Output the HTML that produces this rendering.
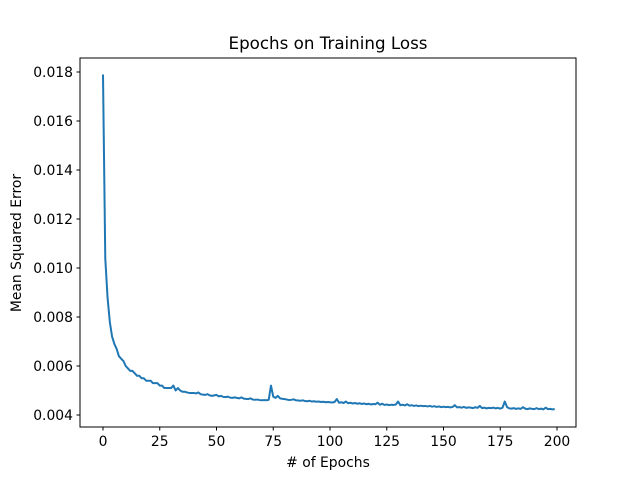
<!DOCTYPE html>
<html><head><meta charset="utf-8"><style>
body{margin:0;background:#fff}
svg text{font-family:"DejaVu Sans","Liberation Sans",sans-serif;fill:#000}
</style></head><body>
<svg id="chart" width="640" height="480" xmlns="http://www.w3.org/2000/svg">
<rect width="640" height="480" fill="#fff"/>
<text x="328" y="49" font-size="16.7" text-anchor="middle">Epochs on Training Loss</text>
<text x="328" y="467" font-size="13.9" text-anchor="middle"># of Epochs</text>
<text transform="translate(21,243) rotate(-90)" font-size="13.9" text-anchor="middle">Mean Squared Error</text>
<g id="ticks"></g>
<path id="line" fill="none" stroke="#1f77b4" stroke-width="2" stroke-linejoin="round"/>
<rect x="80" y="58" width="496" height="369" fill="none" stroke="#000" stroke-width="1"/>
</svg>
<script>
const losses=[
.0179,.0104,.0088,.0078,.0072,.0069,.0067,.0064,.0063,.0062,
.0060,.0059,.0058,.0058,.0057,.0056,.0056,.0055,.0055,.0054,
.0054,.0054,.0053,.0053,.0053,.0052,.0052,.0051,.0051,.0051,
.0051,.0052,.0050,.0051,.0050,.00495,.00495,.00492,.00490,.00490,
.00490,.00488,.00492,.00485,.00483,.00482,.00485,.00480,.00478,.00480,
.00482,.00476,.00478,.00474,.00473,.00475,.00471,.00470,.00472,.00470,
.00468,.00472,.00467,.00466,.00465,.00468,.00463,.00462,.00463,.00461,
.00460,.00461,.00460,.00462,.00520,.00475,.00470,.00478,.00468,.00466,
.00465,.00463,.00461,.00462,.00464,.00460,.00459,.00458,.00460,.00457,
.00456,.00458,.00455,.00456,.00454,.00455,.00453,.00454,.00452,.00453,
.00452,.00451,.00453,.00465,.00450,.00452,.00449,.00455,.00448,.00450,
.00447,.00449,.00446,.00448,.00445,.00447,.00444,.00446,.00443,.00445,
.00444,.00450,.00442,.00446,.00441,.00443,.00440,.00442,.00441,.00443,
.00455,.00440,.00442,.00439,.00444,.00438,.00440,.00437,.00439,.00436,
.00438,.00436,.00437,.00435,.00437,.00434,.00436,.00433,.00435,.00432,
.00434,.00432,.00433,.00431,.00433,.00440,.00431,.00432,.00430,.00433,
.00429,.00431,.00430,.00428,.00432,.00429,.00437,.00428,.00430,.00427,
.00429,.00428,.00430,.00427,.00429,.00426,.00430,.00455,.00432,.00427,
.00426,.00428,.00425,.00427,.00425,.00432,.00426,.00424,.00427,.00425,
.00424,.00428,.00424,.00426,.00423,.00430,.00424,.00425,.00423,.00424];
const xTicks=[0,25,50,75,100,125,150,175,200];
const yTicks=[0.004,0.006,0.008,0.010,0.012,0.014,0.016,0.018];
const yTickLabels=["0.004","0.006","0.008","0.010","0.012","0.014","0.016","0.018"];
function xs(v){return 103+(v)*(557-103)/200;}
function ys(v){return 415-(v-0.004)*(415-72)/0.014;}
const NS="http://www.w3.org/2000/svg";
const g=document.getElementById('ticks');
xTicks.forEach(t=>{
  const l=document.createElementNS(NS,'line');
  l.setAttribute('x1',xs(t));l.setAttribute('x2',xs(t));l.setAttribute('y1',427);l.setAttribute('y2',430.5);l.setAttribute('stroke','#000');
  
  
  g.appendChild(l);
  const tx=document.createElementNS(NS,'text');
  tx.setAttribute('x',xs(t));tx.setAttribute('y',446);tx.setAttribute('font-size','13.9');tx.setAttribute('text-anchor','middle');
  tx.textContent=t;
  
  
  g.appendChild(tx);
});
yTicks.forEach((t,i)=>{
  const l=document.createElementNS(NS,'line');
  l.setAttribute('x1',76.5);l.setAttribute('x2',80);l.setAttribute('y1',ys(t));l.setAttribute('y2',ys(t));l.setAttribute('stroke','#000');
  
  
  g.appendChild(l);
  const tx=document.createElementNS(NS,'text');
  tx.setAttribute('x',73);tx.setAttribute('y',ys(t)+5);tx.setAttribute('font-size','13.9');tx.setAttribute('text-anchor','end');
  tx.textContent=yTickLabels[i];
  
  
  g.appendChild(tx);
});
document.getElementById('line').setAttribute('d',losses.map((v,i)=>(i?'L':'M')+xs(i).toFixed(2)+','+ys(v).toFixed(2)).join(''));
</script>
</body></html>
